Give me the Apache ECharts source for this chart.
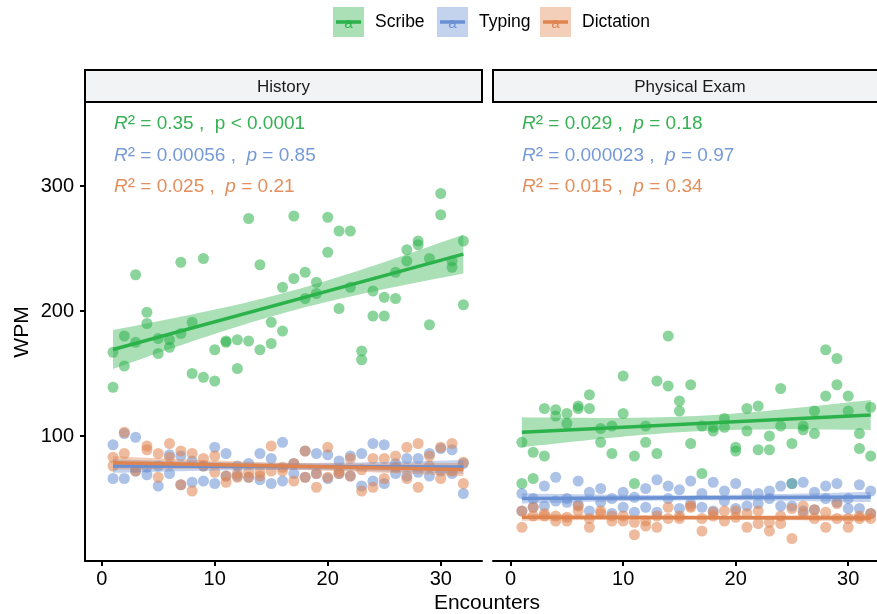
<!DOCTYPE html>
<html>
<head>
<meta charset="utf-8">
<script src="https://cdn.jsdelivr.net/npm/echarts@6/dist/echarts.min.js"></script>
<style>
  html, body { margin: 0; padding: 0; background: #fff; }
  #chart { width: 877px; height: 614px; }
</style>
</head>
<body>
<div id="chart"></div>
<script>
// two readings per encounter, encounters 1..32
var encounters = [1,2,3,4,5,6,7,8,9,10,11,12,13,14,15,16,17,18,19,20,21,22,23,24,25,26,27,28,29,30,31,32];
var groups = ['Scribe', 'Typing', 'Dictation'];
var panels = ['History', 'Physical Exam'];
var xTicks = [0, 10, 20, 30];
var yTicks = [100, 200, 300];

var historyScribe = [[167,139],[180,156],[229,175],[199,190],[178,166],[177,171],[239,182],[191,150],
  [242,147],[169,144],[175,176],[177,154],[274,176],[237,169],[191,174],[219,184],[276,226],[231,210],
  [223,214],[275,247],[264,202],[264,219],[168,161],[216,196],[211,196],[231,210],[249,240],[256,253],
  [242,189],[294,277],[240,235],[256,205]];
var historyTyping = [[93,66],[102,66],[99,72],[69,75],[60,76],[85,70],[84,61],[80,63],
  [64,76],[91,62],[86,68],[76,68],[78,67],[86,65],[82,62],[95,64],[70,78],[88,67],
  [86,70],[85,66],[80,70],[84,68],[86,60],[94,64],[93,62],[70,78],[82,68],[82,71],
  [86,68],[90,72],[89,70],[54,78]];
var historyDictation = [[83,76],[103,86],[72,75],[92,89],[86,67],[94,83],[88,61],[86,56],
  [82,76],[84,71],[68,63],[70,67],[71,67],[71,68],[92,72],[75,72],[78,64],[88,67],
  [70,59],[91,67],[70,72],[82,68],[73,56],[82,59],[82,66],[84,75],[91,66],[94,59],
  [84,76],[91,66],[94,72],[79,62]];

var examScribe = [[95,62],[87,66],[122,84],[121,116],[118,110],[124,122],[133,122],[106,95],
  [108,86],[148,118],[84,62],[108,95],[144,86],[180,140],[128,120],[141,94],[108,70],[107,104],
  [114,107],[91,88],[122,104],[124,89],[100,89],[138,108],[94,62],[108,105],[120,102],[169,132],
  [162,141],[132,120],[102,90],[123,84]];
var examTyping = [[54,40],[50,43],[60,44],[67,48],[50,47],[64,45],[55,40],[58,47],
  [50,38],[55,43],[51,39],[58,43],[65,39],[60,50],[57,42],[64,46],[54,43],[63,40],
  [56,48],[62,42],[54,44],[54,46],[56,50],[60,44],[62,44],[63,40],[55,41],[60,50],
  [62,47],[50,42],[61,42],[56,38]];
var examDictation = [[40,27],[43,36],[38,36],[36,32],[35,32],[44,40],[34,27],[40,38],
  [36,32],[36,32],[31,21],[32,28],[36,27],[43,34],[36,34],[44,43],[34,24],[39,36],
  [40,32],[35,40],[38,27],[40,30],[31,24],[30,36],[42,18],[44,38],[34,41],[39,27],
  [46,34],[34,27],[34,36],[38,34]];

// [R2, p-part, p italic?]
var historyStats = [['0.35', 'p < 0.0001', false], ['0.00056', 'p = 0.85', true], ['0.025', 'p = 0.21', true]];
var examStats = [['0.029', 'p = 0.18', true], ['0.000023', 'p = 0.97', true], ['0.015', 'p = 0.34', true]];

var lineColors = ['#2cb24b', '#6a90d4', '#e0844f'];
var textColors = ['#36b153', '#769ad7', '#e38f5d'];
var FONT = 'Liberation Sans, Arial, sans-serif';

function toPoints(pairs) {
  var pts = [];
  pairs.forEach(function (p, i) {
    pts.push([encounters[i], p[0]]);
    pts.push([encounters[i], p[1]]);
  });
  return pts;
}

// lm fit with 95% confidence band, like geom_smooth(method = 'lm')
function fit(pts) {
  var n = pts.length, mx = 0, my = 0;
  pts.forEach(function (p) { mx += p[0]; my += p[1]; });
  mx /= n; my /= n;
  var sxx = 0, sxy = 0;
  pts.forEach(function (p) { sxx += (p[0] - mx) * (p[0] - mx); sxy += (p[0] - mx) * (p[1] - my); });
  var b = sxy / sxx, a = my - b * mx, sse = 0;
  pts.forEach(function (p) { var r = p[1] - a - b * p[0]; sse += r * r; });
  var s = Math.sqrt(sse / (n - 2)), t = 1.999;
  var x0 = encounters[0], x1 = encounters[encounters.length - 1];
  var band = [];
  for (var k = 0; k <= 40; k++) {
    var x = x0 + (x1 - x0) * k / 40;
    var yh = a + b * x;
    var se = s * Math.sqrt(1 / n + (x - mx) * (x - mx) / sxx);
    band.push([x, yh - t * se, yh + t * se]);
  }
  return { line: [[x0, a + b * x0], [x1, a + b * x1]], band: band };
}

var panelData = [
  [historyScribe, historyTyping, historyDictation],
  [examScribe, examTyping, examDictation]
];

var series = [];
panelData.forEach(function (sets, pi) {
  sets.forEach(function (pairs, gi) {
    series.push({
      name: groups[gi], type: 'scatter', xAxisIndex: pi, yAxisIndex: pi,
      data: toPoints(pairs), symbolSize: 11, z: 2, silent: true,
      itemStyle: { color: lineColors[gi], opacity: 0.55 }
    });
  });
  sets.forEach(function (pairs, gi) {
    var f = fit(toPoints(pairs));
    series.push({
      type: 'custom', xAxisIndex: pi, yAxisIndex: pi, data: f.band, z: 3, silent: true,
      renderItem: function (params, api) {
        if (params.dataIndex !== 0) return null;
        var up = [], lo = [];
        f.band.forEach(function (d) {
          up.push(api.coord([d[0], d[2]]));
          lo.push(api.coord([d[0], d[1]]));
        });
        return {
          type: 'polygon',
          shape: { points: up.concat(lo.reverse()) },
          style: { fill: lineColors[gi], opacity: 0.4 }
        };
      }
    });
    series.push({
      name: groups[gi], type: 'line', xAxisIndex: pi, yAxisIndex: pi, data: f.line,
      showSymbol: false, z: 3, silent: true,
      lineStyle: { color: lineColors[gi], width: 3.5 }
    });
  });
});

function xAxisFor(gi, min, max) {
  return {
    type: 'value', gridIndex: gi, min: min, max: max,
    splitLine: { show: false },
    axisLine: { show: true, onZero: false, lineStyle: { color: '#000', width: 2 } },
    axisTick: { show: true, length: 5, customValues: xTicks, lineStyle: { color: '#000', width: 2 } },
    axisLabel: { customValues: xTicks, margin: 8, color: '#000', fontSize: 20, fontFamily: FONT }
  };
}

var statsText = [];
[historyStats, examStats].forEach(function (rows, pi) {
  rows.forEach(function (r, gi) {
    var pTxt = r[2] ? '{i|p}' + r[1].slice(1) : r[1];
    statsText.push({
      type: 'text', left: pi === 0 ? 114 : 522, top: 113 + gi * 31.5, z: 10,
      style: {
        text: '{i|R}{s|\u00b2} = ' + r[0] + ' ,  ' + pTxt,
        fill: textColors[gi], font: '19px ' + FONT,
        rich: {
          i: { fontStyle: 'italic', fontSize: 19, fontFamily: FONT, fill: textColors[gi] },
          s: { fontSize: 22, fontFamily: FONT, fill: textColors[gi] }
        }
      }
    });
  });
});

var legendX = [333, 437, 540];
var legendItems = [];
groups.forEach(function (g, gi) {
  var x = legendX[gi];
  legendItems.push(
    { type: 'rect', shape: { x: x, y: 7, width: 31, height: 30 }, style: { fill: lineColors[gi], opacity: 0.4 } },
    { type: 'text', x: x + 15.5, y: 24, style: { text: 'a', fill: lineColors[gi], font: '15px ' + FONT, textAlign: 'center', textVerticalAlign: 'middle' } },
    { type: 'line', shape: { x1: x + 3, y1: 22, x2: x + 28, y2: 22 }, style: { stroke: lineColors[gi], lineWidth: 3.5 } },
    { type: 'text', x: x + 42, y: 22, style: { text: g, fill: '#000', font: '17.5px ' + FONT, textVerticalAlign: 'middle' } }
  );
});

var chart = echarts.init(document.getElementById('chart'), null, { renderer: 'canvas' });
chart.setOption({
  animation: false,
  backgroundColor: '#fff',
  grid: [
    { left: 85, top: 102, width: 397, height: 459 },
    { left: 493, top: 102, width: 384, height: 459 }
  ],
  xAxis: [xAxisFor(0, -1.48, 33.65), xAxisFor(1, -1.57, 32.56)],
  yAxis: [
    {
      type: 'value', gridIndex: 0, min: 0, max: 367.2,
      splitLine: { show: false },
      axisLine: { show: true, onZero: false, lineStyle: { color: '#000', width: 2 } },
      axisTick: { show: true, length: 5, customValues: yTicks, lineStyle: { color: '#000', width: 2 } },
      axisLabel: { customValues: yTicks, margin: 11, color: '#000', fontSize: 20, fontFamily: FONT }
    },
    {
      type: 'value', gridIndex: 1, min: 0, max: 367.2,
      splitLine: { show: false }, axisLine: { show: false, onZero: false }, axisTick: { show: false }, axisLabel: { show: false }
    }
  ],
  graphic: [
    { type: 'rect', shape: { x: 85, y: 70, width: 397, height: 32 }, style: { fill: '#f2f3f5', stroke: '#000', lineWidth: 2 } },
    { type: 'rect', shape: { x: 493, y: 70, width: 400, height: 32 }, style: { fill: '#f2f3f5', stroke: '#000', lineWidth: 2 } },
    { type: 'text', x: 283.5, y: 87, style: { text: panels[0], fill: '#1a1a1a', font: '17px ' + FONT, textAlign: 'center', textVerticalAlign: 'middle' } },
    { type: 'text', x: 690, y: 87, style: { text: panels[1], fill: '#1a1a1a', font: '17px ' + FONT, textAlign: 'center', textVerticalAlign: 'middle' } },
    { type: 'text', x: 487, y: 603, style: { text: 'Encounters', fill: '#000', font: '21px ' + FONT, textAlign: 'center', textVerticalAlign: 'middle' } },
    { type: 'text', x: 22, y: 332, rotation: Math.PI / 2, style: { text: 'WPM', fill: '#000', font: '21px ' + FONT, textAlign: 'center', textVerticalAlign: 'middle' } }
  ].concat(legendItems).concat(statsText),
  series: series
});
</script>
</body>
</html>
